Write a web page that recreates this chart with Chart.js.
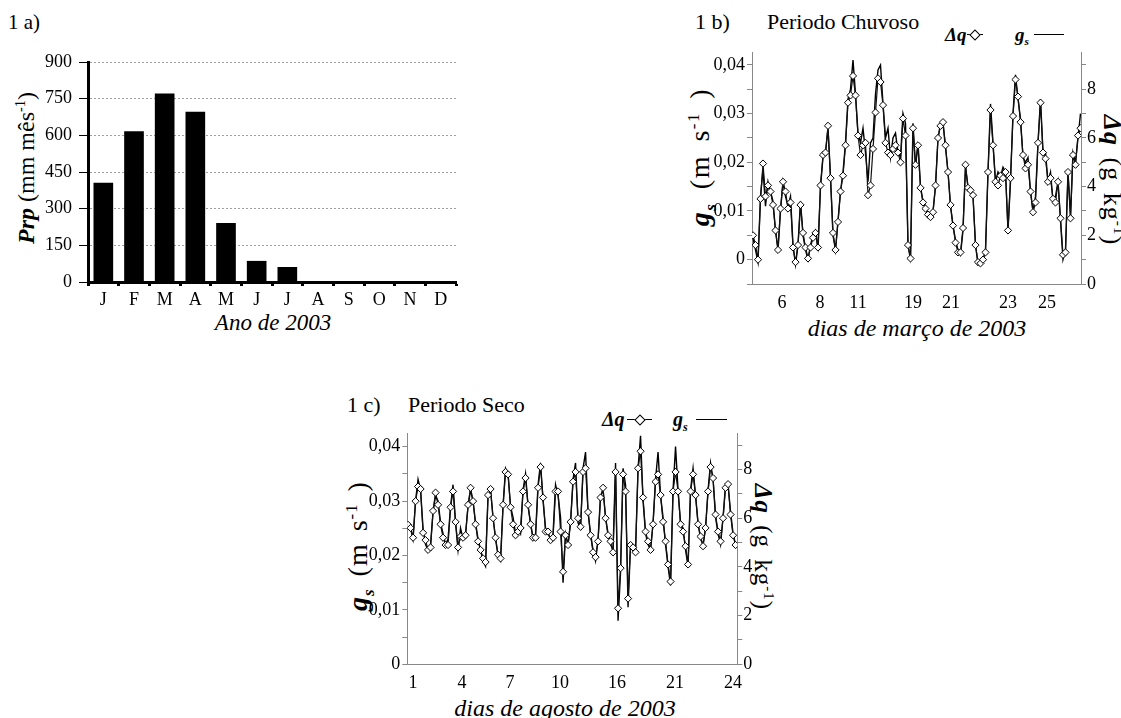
<!DOCTYPE html>
<html>
<head>
<meta charset="utf-8">
<script src="https://cdn.jsdelivr.net/npm/chart.js@4.4.0/dist/chart.umd.min.js"></script>
<style>
  html, body { margin: 0; padding: 0; background: #fff; }
  body { width: 1121px; height: 718px; position: relative; overflow: hidden;
         font-family: "Liberation Serif", "Times New Roman", serif; color: #000; }
  canvas { position: absolute; }
  .t { position: absolute; white-space: nowrap; line-height: 1; }
  .mid { transform: translateY(-50%); }
  .ctr { transform: translate(-50%, -50%); }
  .rot { transform: translate(-50%, -50%) rotate(-90deg); }
  .rot90 { transform: translate(-50%, -50%) rotate(90deg); }
  .bi { font-weight: bold; font-style: italic; }
  .wide { letter-spacing: 1px; word-spacing: 4px; }
  sup, sub { font-size: 0.6em; line-height: 0; }
  .ln { position: absolute; height: 0; border-top: 1px solid #000; }
  .mk::after { content: ''; position: absolute; left: 50%; top: -4.5px; width: 6px; height: 6px;
               margin-left: -4px; border: 1px solid #000; background: #fff; transform: rotate(45deg); }
</style>
</head>
<body>

<!-- panel 1 a -->
<div class="t mid" style="left:8px;top:22px;font-size:21px">1 a)</div>
<div class="t rot" style="left:26px;top:168px;font-size:24px"><span class="bi">Prp</span> (mm mês<sup>-1</sup>)</div>
<div class="t ctr" style="left:273px;top:322px;font-size:23px;font-style:italic">Ano de 2003</div>
<canvas id="chartA" width="462" height="300" style="left:0;top:40px"></canvas>

<!-- panel 1 b -->
<div class="t mid" style="left:695px;top:22px;font-size:22px">1 b)</div>
<div class="t mid" style="left:767px;top:22px;font-size:22px">Periodo Chuvoso</div>
<div class="t mid bi" style="left:945px;top:34px;font-size:19px">Δq</div>
<div class="ln mk" style="left:967px;top:34px;width:16px"></div>
<div class="t mid bi" style="left:1015px;top:34px;font-size:19px">g<sub>s</sub></div>
<div class="ln" style="left:1034px;top:34px;width:30px"></div>
<div class="t rot wide" style="left:700px;top:157px;font-size:28px;letter-spacing:1.5px;word-spacing:5px"><span class="bi">g<sub>s</sub></span> (m s<sup>-1</sup> )</div>
<div class="t rot90 wide" style="left:1112px;top:180px;font-size:26px"><span class="bi">Δq</span> (g kg<sup>-1</sup>)</div>
<div class="t ctr" style="left:917px;top:328px;font-size:24px;font-style:italic">dias de março de 2003</div>
<canvas id="chartB" width="421" height="280" style="left:700px;top:40px"></canvas>

<!-- panel 1 c -->
<div class="t mid" style="left:347px;top:405px;font-size:22px">1 c)</div>
<div class="t mid" style="left:408px;top:405px;font-size:22px">Periodo Seco</div>
<div class="t mid bi" style="left:602px;top:419px;font-size:20px">Δq</div>
<div class="ln mk" style="left:627px;top:419px;width:25px"></div>
<div class="t mid bi" style="left:673px;top:419px;font-size:20px">g<sub>s</sub></div>
<div class="ln" style="left:696px;top:419px;width:31px"></div>
<div class="t rot wide" style="left:358px;top:546px;font-size:28px"><span class="bi">g<sub>s</sub></span> (m s<sup>-1</sup> )</div>
<div class="t rot90 wide" style="left:763px;top:547px;font-size:25px"><span class="bi">Δq</span> (g kg<sup>-1</sup>)</div>
<div class="t ctr" style="left:565px;top:708px;font-size:24px;font-style:italic">dias de agosto de 2003</div>
<canvas id="chartC" width="440" height="281" style="left:340px;top:420px"></canvas>

<script>
// monthly rainfall 2003 (mm/month)
const months = ['J', 'F', 'M', 'A', 'M', 'J', 'J', 'A', 'S', 'O', 'N', 'D'];
const prp = [405, 615, 770, 695, 240, 85, 60, 0, 0, 0, 0, 0];
const prpTicks = [0, 150, 300, 450, 600, 750, 900];

// rainy period, march 2003
const dqChuvoso = [
  2.0, 1.6, 1.0, 3.5, 4.95, 3.6, 4.05, 3.8, 3.25, 2.2,
  1.4, 3.1, 4.2, 3.8, 3.1, 3.35, 1.5, 0.9, 1.6, 3.25,
  2.1, 1.5, 1.05, 1.5, 1.9, 2.1, 1.5, 4.05, 5.3, 5.4,
  6.5, 4.35, 2.1, 1.4, 2.55, 3.8, 4.45, 5.7, 7.45, 7.75,
  8.55, 7.75, 6.1, 5.3,
  5.7, 5.8, 3.65, 4.05, 5.55, 7.05, 8.45, 8.3, 7.35, 5.8,
  5.4, 5.3, 5.55, 5.7, 5.4, 5.0, 6.8, 6.1, 1.6, 1.05,
  6.4, 4.9, 5.7, 3.95, 3.35, 3.1, 2.85, 2.75, 2.95, 4.05,
  6.0, 6.5, 6.65, 5.7, 4.6, 3.25, 2.4, 1.7, 1.3, 1.3,
  2.3, 4.9, 3.95, 3.85,
  3.65, 1.6, 0.9, 0.85, 1.0, 1.3, 4.6, 7.15, 5.7, 4.2,
  4.05, 4.45, 4.35, 4.6, 2.2, 4.35, 6.9, 8.4, 7.7, 6.65,
  5.3, 4.75, 4.9, 3.8, 2.95, 3.35, 5.8, 7.45, 5.4, 5.15,
  4.2, 4.35, 3.5, 3.35, 4.2, 2.7, 1.2, 1.3, 4.6, 2.7,
  5.3, 4.9, 6.1, 6.4
];
const gsChuvoso = [
  0.0045, 0.002, -0.0005, 0.013, 0.0185, 0.011, 0.016, 0.014, 0.012, 0.006,
  0.002, 0.010, 0.016, 0.013, 0.011, 0.013, 0.003, -0.001, 0.003, 0.012,
  0.005, 0.002, 0.000, 0.003, 0.005, 0.006, 0.002, 0.015, 0.021, 0.022,
  0.027, 0.017, 0.005, 0.002, 0.008, 0.014, 0.018, 0.024, 0.033, 0.035,
  0.041, 0.034, 0.026, 0.024,
  0.027, 0.022, 0.016, 0.024, 0.025, 0.034, 0.039, 0.040, 0.032, 0.025,
  0.027, 0.021, 0.025, 0.026, 0.022, 0.021, 0.030, 0.028, 0.003, 0.000,
  0.028, 0.019, 0.024, 0.015, 0.012, 0.011, 0.009, 0.009, 0.010, 0.015,
  0.025, 0.028, 0.028, 0.023, 0.018, 0.011, 0.007, 0.004, 0.002, 0.001,
  0.006, 0.019, 0.015, 0.014,
  0.013, 0.003, -0.001, -0.001, 0.000, 0.002, 0.018, 0.032, 0.024, 0.016,
  0.018, 0.017, 0.019, 0.018, 0.006, 0.016, 0.030, 0.038, 0.033, 0.029,
  0.021, 0.020, 0.021, 0.014, 0.010, 0.013, 0.024, 0.033, 0.022, 0.022,
  0.016, 0.018, 0.012, 0.013, 0.016, 0.008, 0.000, 0.002, 0.018, 0.009,
  0.022, 0.020, 0.025, 0.030
];
const diasChuvosoPos = [11.6, 26.8, 42, 64, 79.2, 102, 117.6];
const diasChuvoso = ['6', '8', '11', '19', '21', '23', '25'];

// dry period, august 2003
const dqSeco = [
  5.73, 5.6, 5.2, 6.7, 7.3, 7.2, 5.4, 5.1, 4.7, 4.8,
  6.3, 7.05, 6.55, 5.75, 5.2, 4.9, 4.9, 6.45, 7.1, 5.85,
  4.8, 5.25, 5.2, 5.3, 6.55, 7.25, 6.7, 5.75, 5.05, 4.7,
  4.35, 4.2, 6.95, 7.2, 6.0, 5.2, 4.5, 4.35, 6.55, 7.9,
  7.8, 6.45, 5.75, 5.3,
  5.45, 5.6, 7.1, 7.65, 6.55, 5.75, 5.2, 5.2, 7.25, 8.1,
  6.85, 5.45, 5.45, 5.1, 5.2, 7.1, 7.1, 5.45, 3.8, 5.3,
  4.9, 5.85, 7.5, 7.9, 6.0, 5.65, 7.9, 8.05, 6.25, 5.3,
  4.6, 4.4, 5.05, 6.85, 7.25, 6.0, 5.3, 5.05, 4.6, 7.9,
  2.3, 3.95, 7.8,
  7.1, 2.7, 4.9, 4.8, 4.6, 8.05, 8.75, 6.85, 5.45, 5.05,
  4.7, 5.75, 7.5, 7.8, 6.95, 5.85, 5.05, 4.1, 3.4, 7.1,
  7.9, 7.1, 5.75, 5.45, 4.85, 4.1, 7.1, 7.8, 6.95, 5.75,
  5.25, 4.85, 5.6, 7.1, 8.1, 7.65, 6.15, 5.45, 5.05, 6.0,
  7.25, 7.4, 6.15, 5.3, 4.9
];
const gsSeco = [
  0.026, 0.025, 0.023, 0.030, 0.034, 0.032, 0.025, 0.022, 0.021, 0.022,
  0.028, 0.031, 0.030, 0.026, 0.024, 0.022, 0.023, 0.029, 0.033, 0.026,
  0.021, 0.025, 0.023, 0.024, 0.029, 0.032, 0.030, 0.026, 0.023, 0.021,
  0.019, 0.018, 0.031, 0.032, 0.027, 0.023, 0.020, 0.019, 0.029, 0.036,
  0.035, 0.029, 0.027, 0.024,
  0.025, 0.024, 0.032, 0.035, 0.029, 0.026, 0.023, 0.024, 0.033, 0.037,
  0.030, 0.025, 0.024, 0.023, 0.024, 0.033, 0.031, 0.027, 0.015, 0.024,
  0.022, 0.026, 0.034, 0.037, 0.026, 0.025, 0.036, 0.039, 0.028, 0.024,
  0.021, 0.019, 0.023, 0.031, 0.032, 0.027, 0.024, 0.022, 0.021, 0.037,
  0.008, 0.017, 0.036,
  0.033, 0.0105, 0.022, 0.021, 0.021, 0.036, 0.042, 0.030, 0.024, 0.022,
  0.021, 0.026, 0.034, 0.039, 0.031, 0.027, 0.022, 0.018, 0.0145, 0.032,
  0.040, 0.032, 0.026, 0.025, 0.021, 0.018, 0.032, 0.036, 0.031, 0.026,
  0.023, 0.022, 0.025, 0.032, 0.037, 0.034, 0.027, 0.024, 0.022, 0.027,
  0.033, 0.033, 0.028, 0.024, 0.022
];
const diasSecoPos = [2, 21.6, 40.8, 60.8, 83.6, 106.8, 130];
const diasSeco = ['1', '4', '7', '10', '16', '21', '24'];

// axis ticks of the two time series panels
const gsTicksChuvoso = [-0.005, 0, 0.005, 0.01, 0.015, 0.02, 0.025, 0.03, 0.035, 0.04];
const gsTicksSeco = [0, 0.005, 0.01, 0.015, 0.02, 0.025, 0.03, 0.035, 0.04];
const dqTicks = [0, 1, 2, 3, 4, 5, 6, 7, 8, 9];

Chart.defaults.font.family = '"Liberation Serif", "Times New Roman", serif';
Chart.defaults.color = '#000';

function gsLabel(v) {
  const k = Math.round(v * 1000);
  if (k < 0 || k % 10 !== 0) return '';
  return k === 0 ? '0' : (k / 1000).toFixed(2).replace('.', ',');
}

// 1 a) bar chart
new Chart(document.getElementById('chartA'), {
  type: 'bar',
  data: {
    labels: months,
    datasets: [{ data: prp, backgroundColor: '#000', barThickness: 19 }]
  },
  options: {
    responsive: false,
    animation: false,
    layout: { padding: { top: 22, right: 6, left: 0, bottom: 0 } },
    plugins: { legend: { display: false }, tooltip: { enabled: false } },
    scales: {
      x: {
        grid: { drawOnChartArea: false, drawTicks: true, tickLength: 4, tickWidth: 3, tickColor: '#000', offset: true },
        border: { color: '#000', width: 3 },
        ticks: { font: { size: 18 }, padding: 3, maxRotation: 0, autoSkip: false },
        afterFit: s => { s.height = 58; }
      },
      y: {
        min: 0,
        max: 900,
        afterBuildTicks: s => { s.ticks = prpTicks.map(v => ({ value: v })); },
        grid: { color: '#a0a0a0', lineWidth: 1, drawTicks: true, tickLength: 9, tickColor: '#000' },
        border: { color: '#000', width: 3, dash: [2, 2] },
        ticks: { font: { size: 18 }, padding: 7 },
        afterFit: s => { s.width = 88; }
      }
    }
  }
});

// 1 b) and 1 c) time series with two y axes
function serieChart(id, dq, gs, dayPos, dayLabels, gsTicks, box) {
  return new Chart(document.getElementById(id), {
    type: 'line',
    data: {
      labels: dq.map((v, i) => i),
      datasets: [
        {
          label: 'Δq', data: dq, yAxisID: 'y2',
          borderColor: '#111', borderWidth: 1.2, tension: 0,
          pointStyle: 'rectRot', pointRadius: 3.6, pointBorderWidth: 1,
          pointBorderColor: '#000', pointBackgroundColor: '#fff'
        },
        {
          label: 'gs', data: gs, yAxisID: 'y',
          borderColor: '#000', borderWidth: 1.4, tension: 0, pointRadius: 0
        }
      ]
    },
    options: {
      responsive: false,
      animation: false,
      layout: { padding: { top: box.padTop, left: 0, right: 0, bottom: 0 } },
      plugins: { legend: { display: false }, tooltip: { enabled: false } },
      scales: {
        x: {
          type: 'linear',
          min: box.xMin,
          max: box.xMax,
          afterBuildTicks: s => { s.ticks = dayPos.map(v => ({ value: v })); },
          grid: { display: false, drawTicks: false },
          border: { color: '#888', width: 1 },
          ticks: { autoSkip: false, maxRotation: 0, font: { size: 18 }, padding: 8,
                   callback: (v, i) => dayLabels[i] },
          afterFit: s => { s.height = box.xH; }
        },
        y: {
          position: 'left',
          min: gsTicks[0] < 0 ? -0.005 : 0,
          max: 0.0425,
          afterBuildTicks: s => { s.ticks = gsTicks.map(v => ({ value: v })); },
          grid: { drawOnChartArea: false, drawTicks: true, tickLength: 5, tickColor: '#888' },
          border: { color: '#888', width: 1 },
          ticks: { font: { size: 18 }, padding: 2, callback: v => gsLabel(v) },
          afterFit: s => { s.width = box.yW; }
        },
        y2: {
          position: 'right',
          min: 0,
          max: 9.5,
          afterBuildTicks: s => { s.ticks = dqTicks.map(v => ({ value: v })); },
          grid: { drawOnChartArea: false, drawTicks: true, tickLength: 5, tickColor: '#888' },
          border: { color: '#888', width: 1 },
          ticks: { font: { size: 18 }, padding: 1, callback: v => (v % 2 === 0 ? String(v) : '') },
          afterFit: s => { s.width = box.y2W; }
        }
      }
    }
  });
}

serieChart('chartB', dqChuvoso, gsChuvoso, diasChuvosoPos, diasChuvoso, gsTicksChuvoso,
  { padTop: 12, xMin: -0.4, xMax: 131.2, xH: 36, yW: 52, y2W: 40 });
serieChart('chartC', dqSeco, gsSeco, diasSecoPos, diasSeco, gsTicksSeco,
  { padTop: 13, xMin: -0.3, xMax: 131.7, xH: 36.7, yW: 67.3, y2W: 42.7 });
</script>
</body>
</html>
